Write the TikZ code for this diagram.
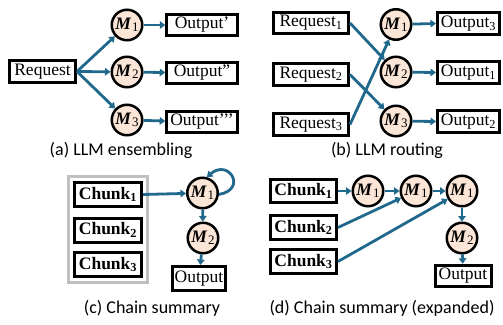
\documentclass[tikz,border=0pt]{standalone}
\usepackage{fontspec}
\setmainfont{Liberation Serif}
\newfontfamily\capfont{Carlito}
\usepackage{tikz}
\usetikzlibrary{positioning,fit,arrows.meta}
\definecolor{flowblue}{RGB}{32,104,140}
\definecolor{llmfill}{RGB}{251,229,214}
\tikzstyle{textbox} = [rectangle, draw, line width=3pt, text centered, inner xsep=2pt, inner ysep=0pt, minimum height=21.5pt, font=\fontsize{17.5}{19}\selectfont]
\tikzstyle{chunkbox} = [textbox, font=\fontsize{17.5}{19}\selectfont\bfseries]
\tikzstyle{llm} = [circle, draw, line width=2.5pt, fill=llmfill, inner sep=0pt, minimum size=30.5pt, font=\fontsize{17.5}{19}\selectfont]
\tikzstyle{frame} = [rectangle, draw=black!25, line width=3pt, inner sep=4.5pt]
\tikzstyle{flow} = [draw=flowblue, line width=2.8pt, ->]
\tikzstyle{caption} = [draw=none, fill=none, text centered, font=\capfont\fontsize{18}{20}\selectfont]
\newcommand{\llmM}[1]{\textbf{\textit{M}}\kern0.5pt\raisebox{-0.3ex}{\fontsize{13}{13}\selectfont #1}}

\begin{document}
\begin{tikzpicture}[x=1pt, y=-1pt, >={Triangle[length=5.5pt,width=7.5pt]}]
    \useasboundingbox (0,0) rectangle (503,324);

	% (a) ensembling
	\node [textbox, minimum width=66pt] (req) at (42.5,71.5) {Request};
	\node [llm] (am1) at (127,25)  {\llmM{1}};
	\node [llm] (am2) at (127,72)  {\llmM{2}};
	\node [llm] (am3) at (127,120) {\llmM{3}};
	\node [textbox, minimum width=70.5pt] (aout1) at (202,25)  {Output’};
	\node [textbox, minimum width=70.5pt] (aout2) at (202,73)  {Output”};
	\node [textbox, minimum width=70.5pt] (aout3) at (202,122) {Output’’’};
	\node [caption] (capa) at (121,150) {(a) LLM ensembling};

	% (b) routing
	\node [textbox, minimum width=75pt] (breq1) at (311,23)    {Request\textsubscript{1}};
	\node [textbox, minimum width=75pt] (breq2) at (311,74.5)  {Request\textsubscript{2}};
	\node [textbox, minimum width=75pt] (breq3) at (311,124.5) {Request\textsubscript{3}};
	\node [llm] (bm1) at (396,24.5) {\llmM{1}};
	\node [llm] (bm2) at (396,72)   {\llmM{2}};
	\node [llm] (bm3) at (396,121)  {\llmM{3}};
	\node [textbox, minimum width=62pt] (bout1) at (468.5,23.5)  {Output\textsubscript{3}};
	\node [textbox, minimum width=62pt] (bout2) at (468.5,72.5)  {Output\textsubscript{1}};
	\node [textbox, minimum width=62pt] (bout3) at (468.5,121.5) {Output\textsubscript{2}};
	\node [caption] (capb) at (387,150) {(b) LLM routing};

	% (c) chain summary
	\node [chunkbox, minimum width=67pt, minimum height=24pt] (cch1) at (108,194.5) {Chunk\textsubscript{1}};
	\node [chunkbox, minimum width=67pt, minimum height=24pt] (cch2) at (108,230)   {Chunk\textsubscript{2}};
	\node [chunkbox, minimum width=67pt, minimum height=24pt] (cch3) at (108,264.5) {Chunk\textsubscript{3}};
	\node [frame, fit=(cch1)(cch3)] (cframe) {};
	\node [llm] (cm1) at (202.5,193) {\llmM{1}};
	\node [llm] (cm2) at (203,238)   {\llmM{2}};
	\node [textbox, minimum width=53pt, minimum height=24pt] (cout) at (199,278.5) {Output};
	\node [caption] (capc) at (152,308) {(c) Chain summary};

	% (d) chain summary, expanded
	\node [chunkbox, minimum width=66pt, minimum height=23.5pt] (dch1) at (303.5,191)   {Chunk\textsubscript{1}};
	\node [chunkbox, minimum width=66pt, minimum height=23.5pt] (dch2) at (303.5,227.5) {Chunk\textsubscript{2}};
	\node [chunkbox, minimum width=66pt, minimum height=23.5pt] (dch3) at (303.5,261.5) {Chunk\textsubscript{3}};
	\node [llm] (dm1) at (368,191) {\llmM{1}};
	\node [llm] (dm2) at (416,191) {\llmM{1}};
	\node [llm] (dm3) at (462,191) {\llmM{1}};
	\node [llm] (dm4) at (462,238) {\llmM{2}};
	\node [textbox, minimum width=56pt] (dout) at (463,276) {Output};
	\node [caption, anchor=west] (capd) at (266,308) {(d) Chain summary (expanded)};

	% draw edges
	\foreach \i in {1,2,3} {
		\path [flow] (req.east) -- (am\i);
		\path [flow] (am\i) -- (aout\i);
		\path [flow] (bm\i) -- (bout\i.west);
	}
	\path [flow] (breq1.east) -- (bm2);
	\path [flow] (breq2.east) -- (bm3);
	\path [flow] (breq3.east) -- (bm1);

	\path [flow] (cch1.east) -- (cm1);
	\path [flow] (cm1.-5) to[out=10, in=40, looseness=3.5] (cm1.75);
	\path [flow] (cm1) -- (cm2);
	\path [flow] (cm2) -- (cout);

	\path [flow] (dch1.east) -- (dm1);
	\path [flow] (dm1) -- (dm2);
	\path [flow] (dm2) -- (dm3);
	\path [flow] (dch2.east) -- (dm2);
	\path [flow] (dch3.east) -- (dm3);
	\path [flow] (dm3) -- (dm4);
	\path [flow] (dm4) -- (dout);
\end{tikzpicture}
\end{document}
